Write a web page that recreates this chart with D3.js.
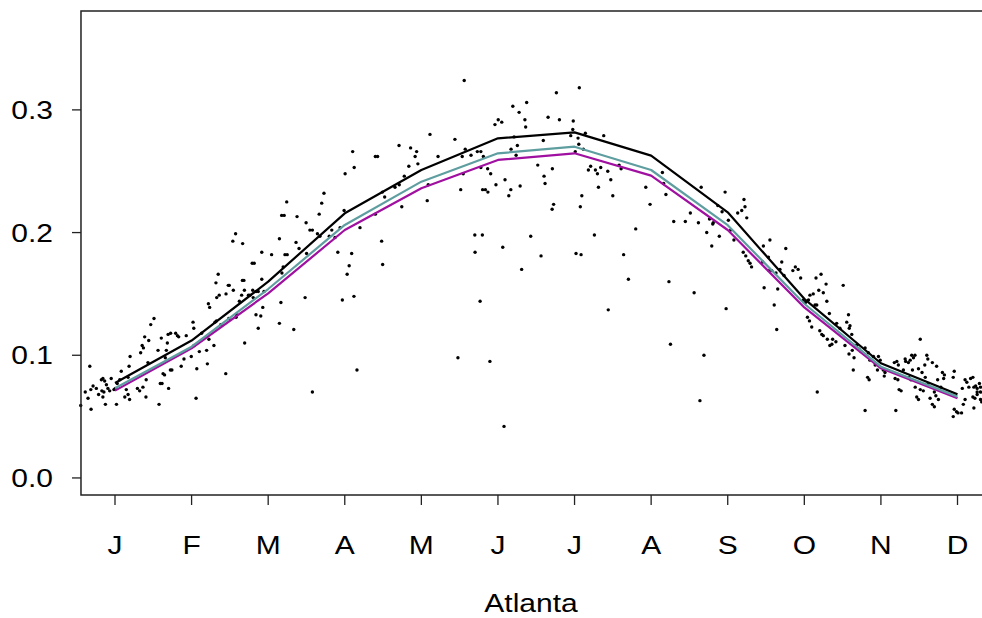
<!DOCTYPE html>
<html>
<head>
<meta charset="utf-8">
<script src="https://cdn.jsdelivr.net/npm/d3@7"></script>
<style>
  body { margin: 0; background: #fff; }
  svg { display: block; font-family: "Liberation Sans", Arial, sans-serif; }
</style>
</head>
<body>
<svg id="chart" width="982" height="618"></svg>
<script>
// month labels and the monthly fitted curves
var monthLabels = ["J", "F", "M", "A", "M", "J", "J", "A", "S", "O", "N", "D"];
var fitBlack = [0.0774, 0.112, 0.160, 0.2157, 0.251, 0.2768, 0.2817, 0.2627, 0.2165, 0.146, 0.0935, 0.0682];
var fitTeal = [0.0731, 0.107, 0.154, 0.2062, 0.2415, 0.2646, 0.2700, 0.2510, 0.2060, 0.142, 0.0907, 0.0663];
var fitMagenta = [0.0712, 0.1057, 0.1505, 0.2021, 0.2361, 0.2592, 0.2646, 0.2464, 0.2021, 0.139, 0.0894, 0.0650];
var yTicks = [0.0, 0.1, 0.2, 0.3];
var xTitle = "Atlanta";

// daily observations (day of year, value)
var obsDay = [1.6,3.4,4.5,5.2,5.6,5.7,6.5,7.8,8.7,9.8,10,10.4,10.4,10.8,11.1,11.4,11.8,12.4,13.1,13.7,14.8,15.3,15.8,16.1,17.1,17.7,19.1,19.7,20.4,20.4,20.8,21,21.2,24.1,25,25.4,26,26.3,26.5,27,27.5,27.6,28.3,28.6,29.4,30.7,32.3,32.7,33.2,33.6,33.9,34.3,34.9,35.2,35.6,36,36.3,36.5,37.2,37.3,37.8,39.3,40,40.5,41.5,42.6,43.5,45.5,46.2,46.5,46.6,47.4,47.7,48.7,49.6,51.6,51.9,52.3,52.5,52.8,54.5,54.9,55.3,55.5,55.6,56.2,56.6,57.2,59.2,59.3,60.2,60.4,60.6,62,62.2,63.1,63.3,63.5,64.6,65.5,65.8,65.9,66.4,66.6,66.7,68.2,68.8,69.7,69.9,70.1,70.5,71.2,71.2,72.1,72.1,73.1,73.5,73.5,73.9,74.4,77.4,80.5,80.5,81.1,81.4,81.5,82,82.4,82.7,83.4,83.6,86.2,87.1,87.5,88.3,90.7,91.1,91.3,92.6,93.6,93.6,95.6,96.3,96.6,97.3,98.2,100.3,101.3,102.6,103.7,104.6,105.5,106.2,106.6,107.4,108.2,109.2,109.6,110.1,110.2,111.3,112.5,118.6,118.6,119.5,121.1,121.4,121.5,122.3,126.4,128,128.1,129.1,130.1,131.9,132.6,134.4,135,135.5,139.2,139.6,140.3,143.5,150.2,151.4,152.5,153.1,153.5,153.9,154.3,156.6,158.1,158.2,159.1,160.2,160.5,160.5,161.1,161.2,161.5,162.3,163.2,163.3,164.1,164.4,166.1,166.5,167.4,168.8,169.2,169.7,170.1,171.6,172.4,172.5,173.2,173.7,174.5,175,175.7,176.1,176.7,178,178.3,178.7,180.3,183.1,184.4,185.3,185.6,186,187.2,188.8,188.9,189.4,190.5,191.7,196.2,197,197.2,198,198.3,199.1,199.4,199.6,200,200.3,200.6,201.2,202,203.2,204.1,205.6,206,206.8,207.2,208.1,209.3,210.9,211.1,212.1,212.9,215.4,216.2,217.2,219.1,222,226,227.7,232.6,233.1,234,235.2,235.8,237.1,241.7,243.7,245.2,246.9,247.5,248,249.1,250.2,251.3,252.2,252.6,252.8,254.6,255.2,256.3,257.5,257.9,258.8,259.7,261,262.5,264.1,264.7,265,265.4,265.7,266.1,266.7,267.4,268,272.4,272.7,273,274.7,275,275.3,276,277,277.7,278,278.4,279.3,280,280.9,281.6,284.4,285.4,286.5,287.5,288.6,289.4,290.2,290.6,291,291.2,291.9,292.5,293.2,293.6,293.9,294.1,294.7,295.1,295.6,295.9,296.5,296.5,297.6,297.9,298.1,298.9,299.1,299.9,300.2,301.5,301.8,303.1,304.4,305.1,305.8,306.5,306.7,306.8,307.1,307.8,308,308.4,308.7,309.2,309.8,310.7,311.5,313.1,313.1,314.1,314.4,314.7,315,316.4,317.1,318,318.4,319.1,320.3,320.7,321,324.7,325,325.3,325.7,326.1,326.3,326.6,327.4,328.3,329,329.2,330.3,330.5,331,331.3,331.6,331.9,332.3,332.9,333,333.6,334.3,334.3,335,335,335.7,336.2,336.8,337,337.6,338,338,338.9,339.8,339.8,340.6,340.6,341.2,341.5,341.9,342.2,343.2,343.8,344.3,344.6,348.1,348.1,348.5,348.5,349.4,350,351.4,351.7,352.1,352.8,352.8,353.5,354.3,355,355.9,355.9,356.3,356.3,356.7,357,357.6,357.6,357.6,358.5,358.9,358.9,358.9,359.4];
var obsVal = [0.059,0.070,0.065,0.091,0.072,0.056,0.075,0.073,0.068,0.080,0.071,0.081,0.066,0.070,0.079,0.060,0.076,0.073,0.071,0.081,0.072,0.073,0.060,0.077,0.080,0.087,0.066,0.072,0.068,0.082,0.091,0.064,0.099,0.073,0.071,0.102,0.108,0.074,0.106,0.115,0.066,0.080,0.094,0.112,0.125,0.130,0.104,0.060,0.077,0.114,0.077,0.085,0.084,0.098,0.104,0.110,0.117,0.073,0.088,0.118,0.088,0.118,0.116,0.115,0.091,0.097,0.116,0.099,0.127,0.122,0.108,0.065,0.089,0.103,0.118,0.104,0.093,0.142,0.113,0.139,0.108,0.127,0.159,0.128,0.147,0.166,0.149,0.125,0.085,0.150,0.157,0.130,0.157,0.193,0.153,0.199,0.131,0.133,0.144,0.149,0.161,0.191,0.161,0.153,0.110,0.149,0.149,0.175,0.153,0.147,0.175,0.152,0.133,0.152,0.122,0.132,0.184,0.162,0.139,0.152,0.182,0.195,0.126,0.143,0.214,0.167,0.172,0.214,0.182,0.225,0.182,0.121,0.192,0.213,0.187,0.147,0.208,0.183,0.202,0.202,0.070,0.199,0.215,0.197,0.224,0.232,0.197,0.202,0.196,0.184,0.204,0.145,0.218,0.248,0.166,0.173,0.183,0.266,0.148,0.253,0.088,0.204,0.262,0.215,0.262,0.193,0.233,0.174,0.229,0.237,0.271,0.239,0.221,0.246,0.254,0.269,0.262,0.266,0.256,0.226,0.239,0.280,0.262,0.276,0.098,0.235,0.262,0.248,0.324,0.268,0.263,0.198,0.184,0.266,0.144,0.266,0.253,0.198,0.235,0.262,0.235,0.252,0.233,0.095,0.248,0.288,0.239,0.292,0.290,0.188,0.042,0.243,0.230,0.235,0.268,0.303,0.278,0.263,0.271,0.298,0.238,0.170,0.292,0.286,0.306,0.197,0.255,0.181,0.275,0.246,0.240,0.294,0.219,0.252,0.223,0.314,0.292,0.279,0.284,0.291,0.266,0.183,0.277,0.272,0.318,0.221,0.182,0.230,0.268,0.281,0.251,0.254,0.198,0.251,0.248,0.237,0.253,0.279,0.250,0.137,0.243,0.230,0.255,0.252,0.182,0.162,0.203,0.237,0.223,0.249,0.240,0.231,0.160,0.109,0.209,0.209,0.216,0.151,0.208,0.063,0.237,0.100,0.200,0.211,0.189,0.207,0.208,0.222,0.197,0.217,0.233,0.138,0.210,0.202,0.194,0.216,0.218,0.184,0.227,0.221,0.181,0.212,0.177,0.175,0.172,0.176,0.189,0.155,0.180,0.169,0.194,0.169,0.141,0.167,0.121,0.154,0.170,0.176,0.165,0.187,0.169,0.172,0.170,0.163,0.145,0.143,0.131,0.145,0.128,0.149,0.123,0.150,0.141,0.163,0.141,0.070,0.153,0.120,0.166,0.117,0.116,0.151,0.158,0.144,0.113,0.134,0.108,0.109,0.113,0.111,0.126,0.122,0.157,0.108,0.127,0.133,0.101,0.122,0.124,0.117,0.104,0.088,0.098,0.108,0.108,0.105,0.103,0.106,0.055,0.082,0.102,0.080,0.096,0.099,0.092,0.088,0.099,0.096,0.088,0.083,0.086,0.094,0.081,0.055,0.095,0.080,0.092,0.072,0.071,0.088,0.097,0.095,0.094,0.082,0.096,0.080,0.100,0.088,0.098,0.100,0.074,0.066,0.064,0.089,0.113,0.072,0.086,0.071,0.092,0.082,0.100,0.097,0.076,0.065,0.094,0.060,0.058,0.070,0.067,0.091,0.080,0.064,0.074,0.086,0.081,0.084,0.082,0.050,0.087,0.056,0.054,0.053,0.053,0.073,0.060,0.080,0.064,0.078,0.074,0.081,0.082,0.066,0.074,0.057,0.065,0.075,0.073,0.070,0.068,0.077,0.070,0.064,0.074,0.062];

var svg = d3.select("#chart");

// scales (day of year on x)
var x = d3.scaleLinear().domain([0, 365]).range([76.7, 995.8]);
var y = d3.scaleLinear().domain([-0.0139, 0.3806]).range([495, 11]);
var monthMid = monthLabels.map((m, i) => (i + 0.5) * 365 / 12);

var frameLeft = x(1.7), frameRight = x(363.3);
var textStretch = 1.2;

// fitted curves
var line = d3.line()
    .x((d, i) => x(monthMid[i]))
    .y(d => y(d));

// points
svg.append("g")
    .selectAll("circle")
    .data(obsDay)
    .enter()
    .append("circle")
    .attr("cx", d => x(d))
    .attr("cy", (d, i) => y(obsVal[i]))
    .attr("r", 1.7)
    .attr("fill", "#000");

[[fitMagenta, "#a010a0"], [fitTeal, "#5f9ea0"], [fitBlack, "#000"]].forEach(s => {
    svg.append("path")
        .datum(s[0])
        .attr("d", line)
        .attr("fill", "none")
        .attr("stroke", s[1])
        .attr("stroke-width", 2.2)
        .attr("stroke-linejoin", "round");
});

// frame
svg.append("rect")
    .attr("x", frameLeft)
    .attr("y", y.range()[1])
    .attr("width", frameRight - frameLeft)
    .attr("height", y.range()[0] - y.range()[1])
    .attr("fill", "none")
    .attr("stroke", "#222")
    .attr("stroke-width", 1.5);

// y axis
var yAxis = svg.append("g");
yAxis.selectAll("line")
    .data(yTicks)
    .enter()
    .append("line")
    .attr("x1", frameLeft - 9).attr("x2", frameLeft)
    .attr("y1", d => y(d)).attr("y2", d => y(d))
    .attr("stroke", "#222").attr("stroke-width", 1.3);
yAxis.selectAll("text")
    .data(yTicks)
    .enter()
    .append("text")
    .attr("transform", d => "translate(53," + y(d) + ") scale(" + textStretch + ",1)")
    .attr("text-anchor", "end")
    .attr("dy", "0.36em")
    .attr("font-size", 25)
    .text(d => d3.format(".1f")(d));

// x axis
var xAxis = svg.append("g");
xAxis.selectAll("line")
    .data(monthMid)
    .enter()
    .append("line")
    .attr("x1", d => x(d)).attr("x2", d => x(d))
    .attr("y1", y.range()[0]).attr("y2", y.range()[0] + 10)
    .attr("stroke", "#222").attr("stroke-width", 1.3);
xAxis.selectAll("text")
    .data(monthLabels)
    .enter()
    .append("text")
    .attr("transform", (d, i) => "translate(" + x(monthMid[i]) + ",545) scale(" + textStretch + ",1)")
    .attr("text-anchor", "middle")
    .attr("dy", "0.36em")
    .attr("font-size", 25)
    .text(d => d);

svg.append("text")
    .attr("transform", "translate(531,603) scale(" + textStretch + ",1)")
    .attr("text-anchor", "middle")
    .attr("dy", "0.36em")
    .attr("font-size", 25)
    .text(xTitle);
</script>
</body>
</html>
